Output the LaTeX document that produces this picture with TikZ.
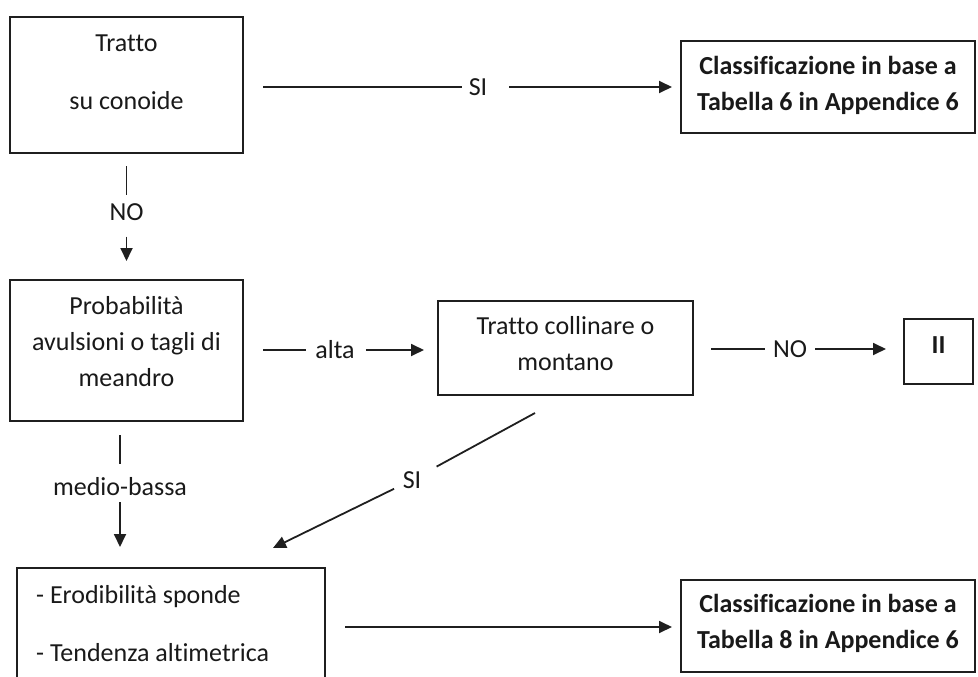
\documentclass[tikz,border=0pt]{standalone}
\usepackage{fontspec}
\setmainfont[Ligatures=NoCommon]{Carlito}
\usetikzlibrary{arrows.meta}
\begin{document}
\begin{tikzpicture}[x=1pt,y=-1pt,
  box/.style={draw=black!88, line width=2pt, inner sep=0pt},
  txt/.style={font=\fontsize{26}{36}\selectfont, inner sep=0pt, align=center, text=black!90},
  btxt/.style={txt, font=\fontsize{26}{36}\selectfont\bfseries},
  conn/.style={draw=black!88, line width=1.8pt},
  arr/.style={conn, -{Triangle[length=13pt,width=12pt]}},
]
\useasboundingbox (0,0) rectangle (978,677);
\clip (0,0) rectangle (978,677);
% boxes
\node[box, minimum width=233pt, minimum height=136pt] (A) at (126.5,85) {};
\node[box, minimum width=294pt, minimum height=92pt] (C6) at (828,87) {};
\node[box, minimum width=233pt, minimum height=141pt] (B) at (126.5,350.5) {};
\node[box, minimum width=255pt, minimum height=94pt] (T) at (565.5,348) {};
\node[box, minimum width=69pt, minimum height=65pt] (II) at (938.5,351.5) {};
\node[box, minimum width=308pt, minimum height=118pt] (D) at (171,627) {};
\node[box, minimum width=294pt, minimum height=92pt] (C8) at (828,626) {};
% texts
\node[txt] (At) at (126.5,72) {Tratto\\[22pt]su conoide};
\node[btxt] (C6t) at (828,85) {Classificazione in base a\\Tabella 6 in Appendice 6};
\node[txt] (Bt) at (126.5,342) {Probabilità\\avulsioni o tagli di\\meandro};
\node[txt] (Tt) at (565.5,344) {Tratto collinare o\\montano};
\node[btxt] (IIt) at (938.5,345) {II};
\node[txt, align=left, anchor=west] (Dt) at (36,624) {- Erodibilità sponde\\[22pt]- Tendenza altimetrica};
\node[btxt] (C8t) at (828,623.5) {Classificazione in base a\\Tabella 8 in Appendice 6};
% labels
\node[txt] (SI1) at (478,87) {SI};
\node[txt] (NO1) at (126.5,212) {NO};
\node[txt] (alta) at (335,350) {alta};
\node[txt] (NO2) at (790,349) {NO};
\node[txt] (MB) at (120,487) {medio-bassa};
\node[txt] (SI2) at (412,480) {SI};
\coordinate (SIs) at (535,413);
\coordinate (SIe) at (273,548);
% connectors
\draw[conn, shorten <=19pt, shorten >=7pt] (A.east |- SI1) -- (SI1.west);
\draw[arr, shorten <=22pt, shorten >=8pt] (SI1.east) -- (C6.west);
\draw[conn, shorten <=12pt, shorten >=8pt] (A.south) -- (NO1.north);
\draw[arr, shorten <=16pt, shorten >=18pt] (NO1.south) -- (B.north);
\draw[conn, shorten <=19pt, shorten >=9pt] (B.east |- alta) -- (alta.west);
\draw[arr, shorten <=11pt, shorten >=13pt] (alta.east) -- (T.west |- alta);
\draw[conn, shorten <=17pt, shorten >=8pt] (T.east |- NO2) -- (NO2.west);
\draw[arr, shorten <=8pt, shorten >=17pt] (NO2.east) -- (II.west |- NO2);
\draw[conn, shorten <=13pt, shorten >=14pt] (MB.north |- B.south) -- (MB.north);
\draw[arr, shorten <=6pt, shorten >=20pt] (MB.south) -- (MB.south |- D.north);
\draw[conn, shorten >=28pt] (SIs) -- (SI2.center);
\draw[arr, shorten <=20pt] (SI2.center) -- (SIe);
\draw[arr, shorten <=19pt, shorten >=8pt] (D.east) -- (C8.west |- D.east);
\end{tikzpicture}
\end{document}
